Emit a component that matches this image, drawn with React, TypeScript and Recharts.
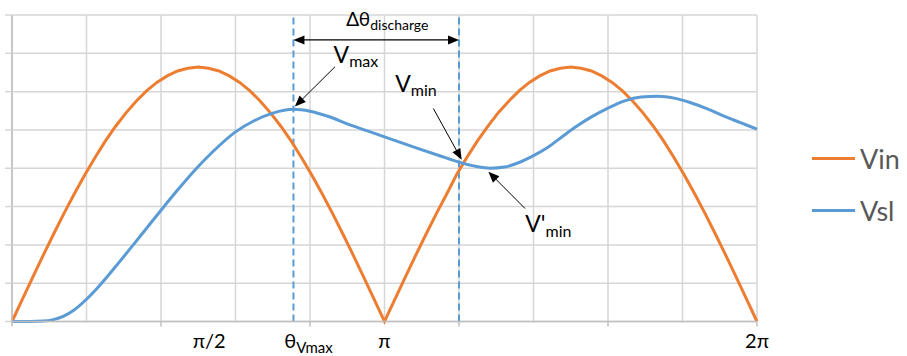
import React from 'react';
import { LineChart, Line, XAxis, YAxis, CartesianGrid, ReferenceLine, ReferenceDot, Legend } from 'recharts';

// ---------- data ----------
const thetaDeg = [
  0, 5, 10, 15, 20, 25, 30, 35, 40, 45, 50, 55, 60, 65, 70, 75, 80, 85, 90,
  95, 100, 105, 110, 115, 120, 125, 130, 135, 140, 145, 150, 155, 160, 165, 170, 175, 180,
  185, 190, 195, 200, 205, 210, 215, 220, 225, 230, 235, 240, 245, 250, 255, 260, 265, 270,
  275, 280, 285, 290, 295, 300, 305, 310, 315, 320, 325, 330, 335, 340, 345, 350, 355, 360,
];
const vinValues = [
  0, 0.58, 1.15, 1.72, 2.27, 2.81, 3.32, 3.81, 4.27, 4.7, 5.09, 5.44, 5.75, 6.02, 6.24, 6.41, 6.54, 6.61, 6.64,
  6.61, 6.54, 6.41, 6.24, 6.02, 5.75, 5.44, 5.09, 4.7, 4.27, 3.81, 3.32, 2.81, 2.27, 1.72, 1.15, 0.58, 0,
  0.58, 1.15, 1.72, 2.27, 2.81, 3.32, 3.85, 4.3, 4.72, 5.1, 5.45, 5.75, 6.02, 6.24, 6.41, 6.54, 6.61, 6.64,
  6.61, 6.54, 6.41, 6.24, 6.02, 5.75, 5.44, 5.09, 4.7, 4.27, 3.81, 3.32, 2.81, 2.27, 1.72, 1.15, 0.58, 0,
];
const vslTheta = [
  0, 9, 15, 20, 25, 30, 36, 43, 50, 58, 66, 73, 80, 88, 97, 108, 117, 126, 136, 144, 153, 163, 171, 180,
  196, 207, 216, 224, 231, 238, 245, 252, 259, 266, 273, 280, 288, 296, 304, 312, 320, 328, 336, 344, 352, 360,
];
const vslValues = [
  0, 0, 0.01, 0.05, 0.14, 0.3, 0.58, 0.98, 1.43, 1.96, 2.5, 2.97, 3.43, 3.93, 4.43, 4.95, 5.24, 5.44, 5.54, 5.49, 5.35, 5.14, 4.99, 4.82,
  4.52, 4.32, 4.16, 4.05, 4.0, 4.03, 4.15, 4.33, 4.55, 4.83, 5.1, 5.34, 5.57, 5.76, 5.86, 5.88, 5.83, 5.71, 5.55, 5.36, 5.19, 5.02,
];
const seriesNames = ['Vin', 'Vsl'];
const xGridTicks = [0, 36, 72, 108, 144, 180, 216, 252, 288, 324, 360];
const xMajorTicks = [0, 72, 144, 216, 288, 360];
const yTicks = [0, 1, 2, 3, 4, 5, 6, 7, 8];
const thetaVmax = 136;
const thetaVmin = 216;
const axisLabelTheta = [90, thetaVmax, 180, 360];
const axisLabelMain = ['π/2', 'θ', 'π', '2π'];
const axisLabelSub = ['', 'Vmax', '', ''];

// annotation anchors in data units (theta deg, value)
const noteTheta = [181.4, 166.2, 195.2, 259.2];
const noteValue = [7.71, 6.75, 5.99, 2.34];
const noteMain = ['Δθ', 'V', 'V', "V'"];
const noteSub = ['discharge', 'max', 'min', 'min'];
const arrowFromTheta = [thetaVmax, 156.1, 203.6, 247.9];
const arrowFromValue = [7.35, 6.65, 5.56, 2.95];
const arrowToTheta = [thetaVmin, 136.7, 217.3, 230.2];
const arrowToValue = [7.35, 5.61, 4.22, 3.91];
const arrowDouble = [true, false, false, false];

// ---------- styles ----------
const ORANGE = '#ED7D31';
const BLUE = '#5B9BD5';
const FONT = 'Lato, "Open Sans", sans-serif';
const W = 907;
const H = 356;

const vinMap = new Map(thetaDeg.map((t, i) => [t, vinValues[i]]));
const vslMap = new Map(vslTheta.map((t, i) => [t, vslValues[i]]));
const allTheta = Array.from(new Set([...thetaDeg, ...vslTheta])).sort((a, b) => a - b);
const chartData = allTheta.map((t) => ({ theta: t, vin: vinMap.get(t), vsl: vslMap.get(t) }));
const seriesColors = [ORANGE, BLUE];

function makeArrow(double: boolean) {
  return (p: any) => {
    const { x1, y1, x2, y2 } = p;
    const dx = x2 - x1;
    const dy = y2 - y1;
    const len = Math.hypot(dx, dy) || 1;
    const ux = dx / len;
    const uy = dy / len;
    const L = 11;
    const HW = 4.5;
    const head = (tx: number, ty: number, vx: number, vy: number) => {
      const bx = tx - vx * L;
      const by = ty - vy * L;
      return `${tx},${ty} ${bx - vy * HW},${by + vx * HW} ${bx + vy * HW},${by - vx * HW}`;
    };
    const sx = double ? x1 + ux * (L - 1) : x1;
    const sy = double ? y1 + uy * (L - 1) : y1;
    const ex = x2 - ux * (L - 1);
    const ey = y2 - uy * (L - 1);
    return (
      <g>
        <line x1={sx} y1={sy} x2={ex} y2={ey} stroke="#000" strokeWidth={double ? 1.3 : 1} />
        <polygon points={head(x2, y2, ux, uy)} fill="#000" />
        {double && <polygon points={head(x1, y1, -ux, -uy)} fill="#000" />}
      </g>
    );
  };
}

const noteSizes = [
  { size: 19, sub: 14, dy: 4 },
  { size: 23, sub: 16, dy: 4 },
  { size: 23, sub: 16, dy: 4 },
  { size: 23, sub: 16, dy: 5 },
];

function makeNote(i: number) {
  return (p: any) => {
    const s = noteSizes[i];
    return (
      <text x={p.cx} y={p.cy} textAnchor="middle" fontFamily={FONT} fill="#000">
        <tspan fontSize={s.size}>{noteMain[i]}</tspan>
        <tspan fontSize={s.sub} dy={s.dy}>{noteSub[i]}</tspan>
      </text>
    );
  };
}

const axisLabelDx = [11, 15, 0, 0];

function makeAxisLabel(i: number) {
  return (p: any) => (
    <text x={p.cx + axisLabelDx[i]} y={p.cy + 26.5} textAnchor="middle" fontFamily={FONT} fill="#000">
      <tspan fontSize={20}>{axisLabelMain[i]}</tspan>
      {axisLabelSub[i] && <tspan fontSize={15} dy={5}>{axisLabelSub[i]}</tspan>}
    </text>
  );
}

// x-axis tick: only a short mark under the major gridlines
const XTick = (p: any) => {
  const v = p?.payload?.value;
  if (!xMajorTicks.includes(v)) return <g />;
  return <line x1={p.x} x2={p.x} y1={p.y} y2={p.y + 5} stroke="#bfbfbf" strokeWidth={1.5} />;
};
const YTick = () => <g />;

const renderLegend = () => (
  <div style={{ display: 'flex', flexDirection: 'column', fontFamily: FONT }}>
    {seriesNames.map((n, i) => (
      <div key={n} style={{ display: 'flex', alignItems: 'center', height: 52 }}>
        <div style={{ width: 43, height: 3, background: seriesColors[i] }} />
        <span style={{ marginLeft: 5, fontSize: 27, color: '#595959', lineHeight: 1 }}>{n}</span>
      </div>
    ))}
  </div>
);

export default function App() {
  return (
    <div style={{ position: 'absolute', left: 0, top: 0, width: W, height: H, background: '#fff' }}>
      <LineChart data={chartData} width={W} height={H} margin={{ top: 15, right: 150, bottom: 0, left: 5 }}>
        <CartesianGrid stroke="#d6d6d6" strokeWidth={1.5} />
        <XAxis
          dataKey="theta"
          type="number"
          orientation="bottom"
          domain={[0, 360]}
          ticks={xGridTicks}
          interval={0}
          tick={XTick}
          tickLine={false}
          tickSize={0}
          tickMargin={0}
          axisLine={{ stroke: '#bfbfbf', strokeWidth: 1.5 }}
          height={34.5}
        />
        <YAxis
          type="number"
          orientation="left"
          domain={[0, 8]}
          ticks={yTicks}
          interval={0}
          tick={YTick}
          tickSize={7}
          width={7}
          tickLine={{ stroke: '#d6d6d6', strokeWidth: 1.5 }}
          axisLine={{ stroke: '#bfbfbf', strokeWidth: 1.5 }}
        />
        <ReferenceLine x={thetaVmax} stroke={BLUE} strokeWidth={2} strokeDasharray="7 4" />
        <ReferenceLine x={thetaVmin} stroke={BLUE} strokeWidth={2} strokeDasharray="7 4" />
        <Line dataKey="vin" name={seriesNames[0]} type="linear" connectNulls stroke={ORANGE} strokeWidth={3} dot={false} activeDot={false} isAnimationActive={false} />
        <Line dataKey="vsl" name={seriesNames[1]} type="monotone" connectNulls stroke={BLUE} strokeWidth={3} dot={false} activeDot={false} isAnimationActive={false} />
        {arrowFromTheta.map((t, i) => (
          <ReferenceLine
            key={'arr' + i}
            segment={[
              { x: t, y: arrowFromValue[i] },
              { x: arrowToTheta[i], y: arrowToValue[i] },
            ]}
            ifOverflow="visible"
            shape={makeArrow(arrowDouble[i])}
          />
        ))}
        {noteTheta.map((t, i) => (
          <ReferenceDot key={'note' + i} x={t} y={noteValue[i]} r={1} ifOverflow="visible" shape={makeNote(i)} />
        ))}
        {axisLabelTheta.map((t, i) => (
          <ReferenceDot key={'lab' + i} x={t} y={0} r={1} ifOverflow="visible" shape={makeAxisLabel(i)} />
        ))}
        <Legend
          content={renderLegend}
          layout="horizontal"
          verticalAlign="middle"
          align="center"
          wrapperStyle={{ left: 812, top: 132, width: 95 }}
        />
      </LineChart>
    </div>
  );
}
